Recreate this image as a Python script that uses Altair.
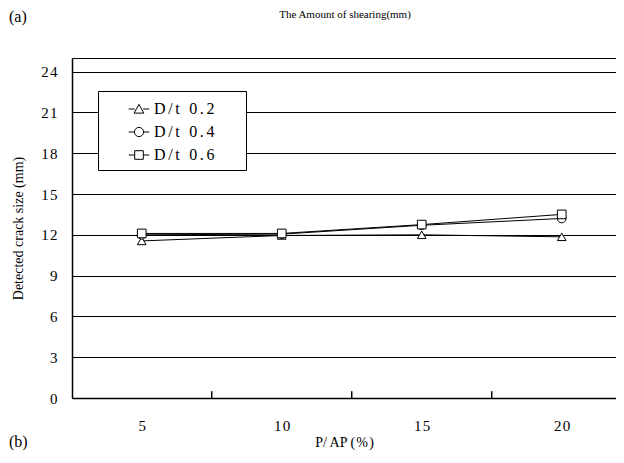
import altair as alt
import pandas as pd

# ---- data ----
pap = [5, 10, 15, 20]
series_names = ["D/t 0.2", "D/t 0.4", "D/t 0.6"]
dt02 = [11.55, 11.95, 12.0, 11.85]
dt04 = [12.0, 12.05, 12.7, 13.2]
dt06 = [12.1, 12.1, 12.75, 13.5]
y_ticks = [0, 3, 6, 9, 12, 15, 18, 21, 24]
x_ticks = [5, 10, 15, 20]
x_sep_ticks = [7.5, 12.5, 17.5]
title_text = "The Amount of shearing(mm)"

rows = []
for name, vals in zip(series_names, [dt02, dt04, dt06]):
    for x, v in zip(pap, vals):
        rows.append({"pap": x, "size": v, "series": name})
df = pd.DataFrame(rows)
sep_df = pd.DataFrame({"x": x_sep_ticks, "y0": [0] * 3, "y1": [0.5] * 3})

FONT = "Liberation Serif"
SP = "\u200a"     # hair space for the wide letter spacing of the original
BLANK = "\u2800"  # blank glyph (not trimmed) to widen the legend box

W, H = 544, 340
x_scale = alt.Scale(domain=[2.51, 2.51 + W / 28.0], nice=False, zero=False)
y_scale = alt.Scale(domain=[0, 25], nice=False)

digit_expr = (f"length(datum.label) > 1 ? substring(datum.label,0,1) + '{SP}' + "
              f"substring(datum.label,1) : datum.label")

base = alt.Chart(df)

lines = base.mark_line(color="black", strokeWidth=1).encode(
    x=alt.X("pap:Q", scale=x_scale,
            axis=alt.Axis(values=x_ticks, tickCount=20, ticks=False, grid=False,
                          domainColor="black", domainWidth=1.5,
                          labelFont=FONT, labelFontSize=15, labelColor="black",
                          labelPadding=20, labelOverlap=False,
                          labelExpr=digit_expr,
                          title=f"P/ AP ({SP}%{SP})",
                          titleFont=FONT, titleFontSize=14, titleFontWeight="normal",
                          titleColor="black", titlePadding=2)),
    y=alt.Y("size:Q", scale=y_scale,
            axis=alt.Axis(values=y_ticks + [25], tickCount=20, ticks=False, grid=True,
                          gridColor="black", gridWidth=1, gridOpacity=1,
                          domainColor="black", domainWidth=1.5,
                          labelFont=FONT, labelFontSize=15, labelColor="black",
                          labelPadding=15, labelOverlap=False,
                          labelExpr=f"datum.value == 25 ? '' : ({digit_expr})",
                          title="Detected crack size (mm)",
                          titleFont=FONT, titleFontSize=14, titleFontWeight="normal",
                          titleColor="black", titlePadding=15)),
    detail="series:N",
)

points = base.mark_point(filled=False, fill="white", stroke="black",
                         strokeWidth=1, size=75, opacity=1).encode(
    x=alt.X("pap:Q", scale=x_scale),
    y=alt.Y("size:Q", scale=y_scale),
    shape=alt.Shape("series:N",
                    scale=alt.Scale(domain=series_names,
                                    range=["triangle-up", "circle", "square"]),
                    legend=None),
)

tri_path = "M-1,0H-0.42M0.42,0H1M0,-0.45L0.48,0.4H-0.48Z"
circ_path = "M-1,0H-0.45M0.45,0H1M0.45,0A0.45,0.45,0,1,1,-0.45,0A0.45,0.45,0,1,1,0.45,0Z"
sq_path = "M-1,0H-0.42M0.42,0H1M-0.42,-0.42H0.42V0.42H-0.42Z"

legend_layer = base.mark_point(filled=False, stroke="black", strokeWidth=1,
                               opacity=1).encode(
    x=alt.X("pap:Q", scale=x_scale),
    y=alt.Y("size:Q", scale=y_scale),
    shape=alt.Shape("series:N",
                    scale=alt.Scale(domain=series_names,
                                    range=[tri_path, circ_path, sq_path]),
                    legend=alt.Legend(
                        title=None, orient="none", legendX=26, legendY=33,
                        fillColor="white", strokeColor="black", padding=7,
                        cornerRadius=0,
                        symbolSize=420, symbolStrokeWidth=1,
                        symbolStrokeColor="black", symbolFillColor="white",
                        symbolOffset=23, labelOffset=4,
                        rowPadding=4,
                        labelFont=FONT, labelFontSize=16, labelColor="black",
                        labelExpr=f"join(split(datum.label, ''), '{SP}{SP}') + '{BLANK * 2}'",
                    )),
).transform_filter("false")

sep_ticks = alt.Chart(sep_df).mark_rule(color="black", strokeWidth=1.5).encode(
    x=alt.X("x:Q", scale=x_scale),
    y=alt.Y("y0:Q", scale=y_scale),
    y2="y1:Q",
)

label_a = alt.Chart(pd.DataFrame({"t": ["(a)"]})).mark_text(
    font=FONT, fontSize=16, align="left", baseline="middle", color="black"
).encode(text="t:N", x=alt.value(-63), y=alt.value(-41))

label_b = alt.Chart(pd.DataFrame({"t": ["(b)"]})).mark_text(
    font=FONT, fontSize=16, align="left", baseline="middle", color="black"
).encode(text="t:N", x=alt.value(-63), y=alt.value(384))

label_title = alt.Chart(pd.DataFrame({"t": [title_text]})).mark_text(
    font=FONT, fontSize=11, align="center", baseline="middle", color="black"
).encode(text="t:N", x=alt.value(273), y=alt.value(-43))

chart = alt.layer(
    lines, sep_ticks, points, legend_layer, label_a, label_b, label_title
).resolve_scale(shape="independent").properties(
    width=W, height=H,
    autosize=alt.AutoSizeParams(type="none"),
    padding={"left": 64, "top": 50, "right": 0, "bottom": 52},
).configure_view(stroke=None).configure(background="white")

chart.save("out.html", embed_options={"renderer": "svg", "actions": False})
